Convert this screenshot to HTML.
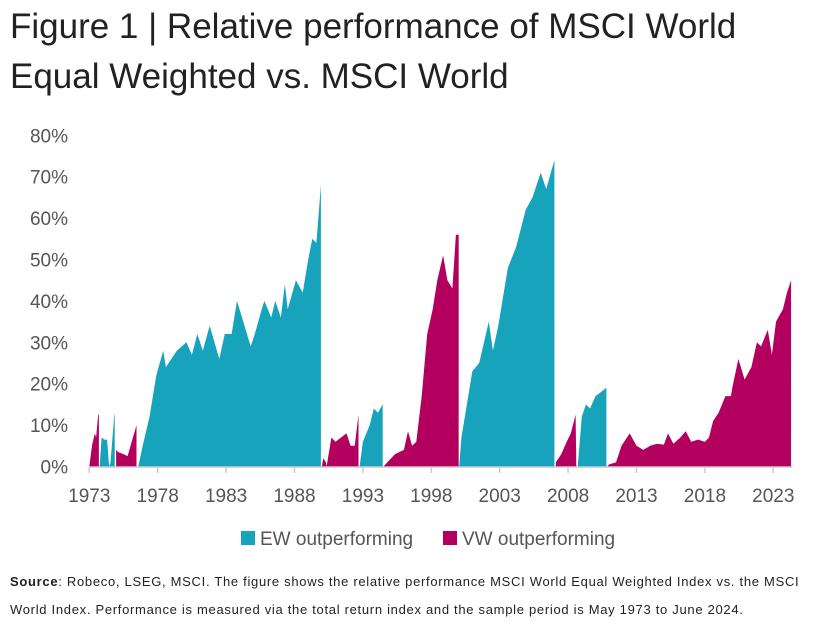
<!DOCTYPE html>
<html><head><meta charset="utf-8">
<style>
body{margin:0;background:#fff;width:821px;height:626px;overflow:hidden;font-family:"Liberation Sans",sans-serif;}
h1{position:absolute;left:10px;top:2px;margin:0;font-weight:normal;font-size:35px;line-height:50px;color:#222;letter-spacing:0px;transform:scaleX(1.0);transform-origin:left top;width:800px}
.src{position:absolute;left:10px;top:568px;font-size:13px;letter-spacing:0.7px;line-height:28px;color:#222;width:810px;white-space:nowrap}
svg{position:absolute;left:0;top:0}
</style></head><body>
<h1>Figure 1 | Relative performance of MSCI World<br>Equal Weighted vs. MSCI World</h1>
<svg id="c" width="821" height="626"></svg>
<div class="src"><b>Source</b>: Robeco, LSEG, MSCI. The figure shows the relative performance MSCI World Equal Weighted Index vs. the MSCI<br>World Index. Performance is measured via the total return index and the sample period is May 1973 to June 2024.</div>
<script>
const yTicks=[0,10,20,30,40,50,60,70,80];
const xTicks=[1973,1978,1983,1988,1993,1998,2003,2008,2013,2018,2023];
const seriesNames=["EW outperforming","VW outperforming"];
// each segment: [type, years, values]
const seg1Years=[1973.0,1973.2,1973.4,1973.5,1973.65,1973.7];
const seg1Vals=[0,5,8,7,12.5,12.5];
const seg2Years=[1973.75,1973.9,1974.1,1974.3,1974.45,1974.55,1974.83,1974.86];
const seg2Vals=[0,7,6.5,6.5,0,1,12.5,12.5];
const seg3Years=[1974.96,1975.1,1975.5,1975.8,1976.1,1976.45];
const seg3Vals=[4,3.5,3,2.5,6,10];
const seg4Years=[1976.58,1976.9,1977.4,1977.9,1978.4,1978.6,1979.4,1980.1,1980.5,1980.9,1981.3,1981.8,1982.5,1982.9,1983.4,1983.8,1984.8,1985.1,1985.6,1985.8,1986.3,1986.6,1987.0,1987.3,1987.5,1988.1,1988.6,1989.0,1989.3,1989.6,1989.93];
const seg4Vals=[0,5,12,22,28,24,28,30,27,32,28,34,26,32,32,40,29,32,38,40,36,40,36,44,38,45,42,50,55,54,68];
const seg5Years=[1990.0,1990.1,1990.3,1990.35,1990.7,1991.0,1991.4,1991.8,1992.1,1992.4,1992.68];
const seg5Vals=[0,2,1,0,7,6,7,8,5,5,12.5];
const seg6Years=[1992.76,1993.0,1993.5,1993.8,1994.1,1994.45];
const seg6Vals=[0,6,10,14,13,15];
const seg7Years=[1994.5,1995.35,1996.0,1996.3,1996.6,1996.9,1997.3,1997.7,1998.1,1998.44,1998.86,1999.18,1999.54,1999.8,2000.0];
const seg7Vals=[0,3,4,8.5,5,6,17,32,38,45,51,45,43,56,56];
const seg8Years=[2000.04,2000.2,2000.6,2001.0,2001.5,2002.2,2002.5,2002.9,2003.6,2004.2,2004.9,2005.4,2006.0,2006.4,2007.0];
const seg8Vals=[0,7,15,23,25,35,28,34,48,53,62,65,71,67,74];
const seg9Years=[2007.1,2007.5,2007.9,2008.2,2008.55,2008.6];
const seg9Vals=[1,3,6,8,12.5,0];
const seg10Years=[2008.7,2009.0,2009.3,2009.6,2010.0,2010.4,2010.8];
const seg10Vals=[0,12,15,14,17,18,19];
const seg11Years=[2010.87,2011.0,2011.5,2011.9,2012.5,2013.0,2013.5,2014.0,2014.5,2015.0,2015.3,2015.7,2016.2,2016.6,2017.0,2017.5,2018.0,2018.3,2018.6,2019.0,2019.5,2019.9,2020.0,2020.45,2020.9,2021.4,2021.8,2022.1,2022.6,2022.9,2023.2,2023.7,2024.0,2024.3];
const seg11Vals=[0,0.5,1,5,8,5,4,5,5.5,5.3,8,5.5,7,8.5,6,6.5,6,7,11,13,17,17,19,26,21,24,30,29,33,27,35,38,42,45];
const segments=[["VW",seg1Years,seg1Vals],["EW",seg2Years,seg2Vals],["VW",seg3Years,seg3Vals],["EW",seg4Years,seg4Vals],["VW",seg5Years,seg5Vals],["EW",seg6Years,seg6Vals],["VW",seg7Years,seg7Vals],["EW",seg8Years,seg8Vals],["VW",seg9Years,seg9Vals],["EW",seg10Years,seg10Vals],["VW",seg11Years,seg11Vals]];
const colors={EW:"#17a3bb",VW:"#b3005e"};
const svg=document.getElementById('c');
const NS="http://www.w3.org/2000/svg";
const x=y=>89.3+(y-1973)*13.68;
const yv=v=>466.5-v*4.14;
function mk(t,a){const e=document.createElementNS(NS,t);for(const k in a)e.setAttribute(k,a[k]);svg.appendChild(e);return e;}
segments.forEach((s,i)=>{
 const [t,ys,vs]=s;
 let d="M"+x(ys[0])+","+yv(0);
 ys.forEach((yr,j)=>{d+=" L"+x(yr).toFixed(1)+","+yv(vs[j]).toFixed(1);});
 d+=" L"+x(ys[ys.length-1])+","+yv(0)+"Z";
 const p=mk("path",{d:d,fill:colors[t]});
 
 
});
const ax=mk("line",{x1:x(1973),x2:x(2024.4),y1:467,y2:467,stroke:"#ccc","stroke-width":1.5});


yTicks.forEach(v=>{
 const t=mk("text",{x:68,y:yv(v)+7,"text-anchor":"end","font-size":19,fill:"#555","font-family":"Liberation Sans"});
 t.textContent=v+"%";
 
 
});
xTicks.forEach(v=>{
 const l=mk("line",{x1:x(v),x2:x(v),y1:467,y2:473,stroke:"#ccc","stroke-width":1.5});
 
 
 const t=mk("text",{x:x(v),y:502,"text-anchor":"middle","font-size":19,fill:"#555","font-family":"Liberation Sans"});
 t.textContent=v;
 
 
});
const legX=[241,443];
seriesNames.forEach((n,i)=>{
 const r=mk("rect",{x:legX[i],y:531,width:14,height:14,fill:i?colors.VW:colors.EW});
 
 
 const t=mk("text",{x:legX[i]+19,y:545,"font-size":19,fill:"#555","font-family":"Liberation Sans"});
 t.textContent=n;
 
 
});
</script>
</body></html>
